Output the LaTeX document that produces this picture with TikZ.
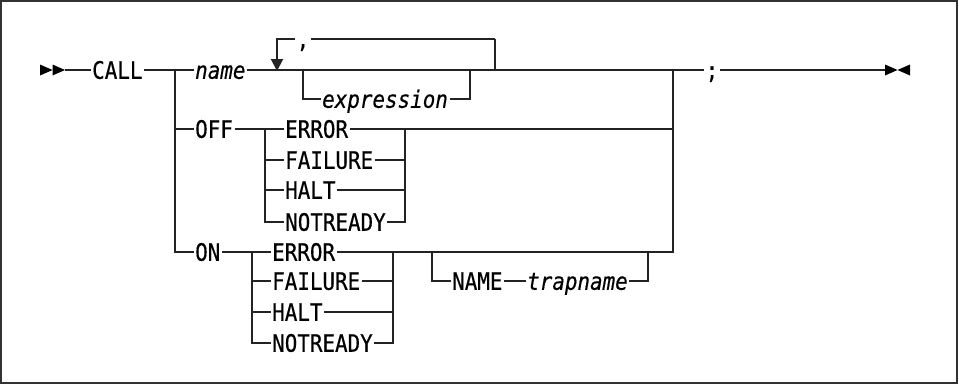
\documentclass[tikz,border=0pt]{standalone}
\usepackage{fontspec}
\setmonofont[FakeStretch=0.87,FakeBold=0.5]{DejaVu Sans Mono}
\usetikzlibrary{arrows.meta}
\begin{document}
\begin{tikzpicture}[x=1pt,y=-1pt,
  txt/.style={font=\ttfamily\fontsize{24}{26}\selectfont, anchor=west, inner xsep=1.5pt, inner ysep=0pt, text height=17.5pt, text depth=0pt},
  itxt/.style={txt, font=\ttfamily\itshape\fontsize{24}{26}\selectfont},
  rail/.style={draw={rgb,255:red,35;green,35;blue,35}, line width=2pt},
  tip/.style={fill=black}
]
\useasboundingbox (0,0) rectangle (959,386);
\draw[line width=2pt, draw={rgb,255:red,50;green,50;blue,50}] (1,1) rectangle (957,383);

% coordinates
\coordinate (st2) at (65,70);
\coordinate (jL0) at (175,70);
\coordinate (jL1) at (175,129);
\coordinate (jR0) at (673,70);
\coordinate (jR1) at (673,129);
\coordinate (lpA) at (277,39);
\coordinate (lpAb) at (277,70);
\coordinate (lpB) at (495,39);
\coordinate (lpBb) at (495,70);
\coordinate (eA) at (303,70);
\coordinate (eB) at (470,70);
\coordinate (en1) at (885,70);

% nodes
\node[txt] (call) at (90.5,70) {CALL};
\node[itxt] (name) at (193.5,70) {name};
\node[txt, anchor=center] (comma) at (303,39) {,};
\node[itxt] (expr) at (320.5,99) {expression};
\node[txt, anchor=center] (semi) at (712,70) {;};

\node[txt] (off) at (193.5,129) {OFF};
\node[txt] (er1) at (283.5,129) {ERROR};
\node[txt] (fa1) at (283.5,160) {FAILURE};
\node[txt] (ha1) at (283.5,190) {HALT};
\node[txt] (nr1) at (283.5,222) {NOTREADY};

\node[txt] (on) at (193.5,252) {ON};
\node[txt] (er2) at (270.5,252) {ERROR};
\node[txt] (fa2) at (270.5,281) {FAILURE};
\node[txt] (ha2) at (270.5,312) {HALT};
\node[txt] (nr2) at (270.5,343) {NOTREADY};

\node[txt] (nm) at (450.5,281) {NAME};
\node[itxt] (trap) at (525.5,281) {trapname};

% start / end tips
\fill[tip] (40,64.5) -- (52.5,70) -- (40,75.5) -- cycle;
\fill[tip] (52.5,64.5) -- (65,70) -- (52.5,75.5) -- cycle;
\fill[tip] (885,64.5) -- (897.5,70) -- (885,75.5) -- cycle;
\fill[tip] (910,64.5) -- (897.5,70) -- (910,75.5) -- cycle;

% main rail
\draw[rail] (st2) -- (call.west);
\draw[rail] (call.east) -- (jL0) -- (name.west);
\draw[rail] (name.east) -- (jR0);
\draw[rail] (jR0) -- (semi.west);
\draw[rail] (semi.east) -- (en1);

% repeat loop
\draw[rail] (lpB) -- (comma.east);
\draw[rail] (lpBb) -- (lpB);
\draw[rail, -{Triangle[length=12pt,width=12pt]}] (comma.west) -- (lpA) -- ([yshift=-1pt]lpAb);
% expression
\draw[rail] (eA) |- (expr.west);
\draw[rail] (expr.east) -| (eB);

% left rail
\draw[rail] (jL0) |- (on.west);
\draw[rail] (jL1) -- (off.west);
% right rail
\draw[rail] (jR0) |- (er2.east);

% OFF group
\coordinate (oL) at (265,129);
\coordinate (oR) at (405,129);
\draw[rail] (off.east) -- (oL) -- (er1.west);
\draw[rail] (oL) |- (nr1.west);
\draw[rail] (oL |- fa1.west) -- (fa1.west);
\draw[rail] (oL |- ha1.west) -- (ha1.west);
\draw[rail] (er1.east) -- (jR1);
\draw[rail] (nr1.east) -| (oR);
\draw[rail] (fa1.east) -- (oR |- fa1.east);
\draw[rail] (ha1.east) -- (oR |- ha1.east);

% ON group
\coordinate (nL) at (252,252);
\coordinate (nR) at (393,252);
\coordinate (tL) at (432,252);
\coordinate (tR) at (648,252);
\draw[rail] (on.east) -- (nL) -- (er2.west);
\draw[rail] (nL) |- (nr2.west);
\draw[rail] (nL |- fa2.west) -- (fa2.west);
\draw[rail] (nL |- ha2.west) -- (ha2.west);
\draw[rail] (nr2.east) -| (nR);
\draw[rail] (fa2.east) -- (nR |- fa2.east);
\draw[rail] (ha2.east) -- (nR |- ha2.east);
% NAME trapname
\draw[rail] (tL) |- (nm.west);
\draw[rail] (nm.east) -- (trap.west);
\draw[rail] (trap.east) -| (tR);
\end{tikzpicture}
\end{document}
